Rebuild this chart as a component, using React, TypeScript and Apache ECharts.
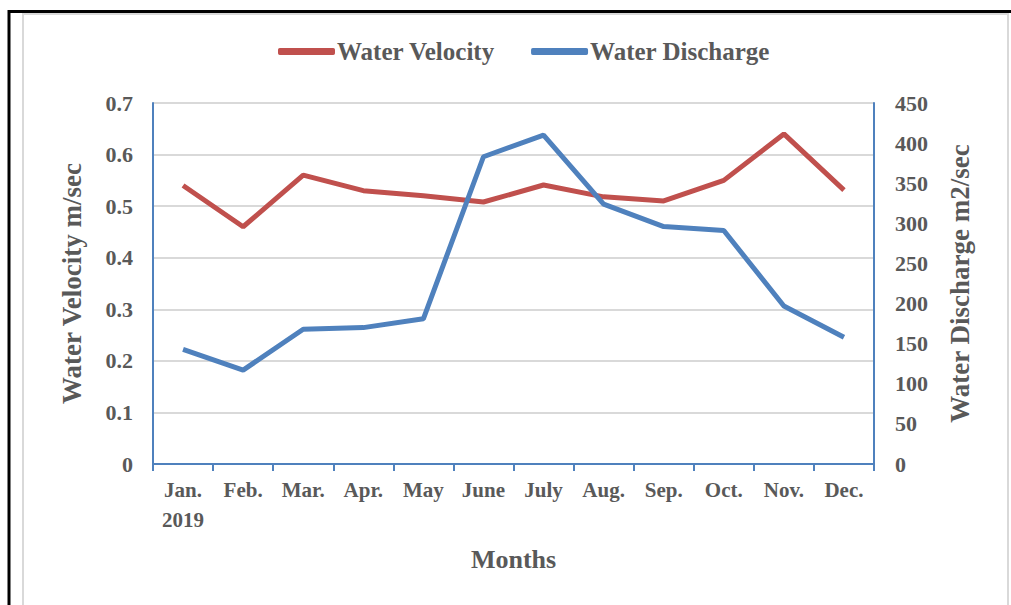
import React, { useEffect, useRef } from "react";
import * as echarts from "echarts";

const months = ["Jan.\n2019", "Feb.", "Mar.", "Apr.", "May", "June", "July", "Aug.", "Sep.", "Oct.", "Nov.", "Dec."];
const velocity = [0.54, 0.46, 0.56, 0.53, 0.52, 0.508, 0.541, 0.518, 0.51, 0.55, 0.64, 0.531];
const discharge = [143, 117, 168, 170, 181, 383, 410, 324, 296, 291, 197, 158];

const FONT = "'Liberation Serif', 'Times New Roman', serif";
const GRAY = "#595959";
const RED = "#C0504D";
const BLUE = "#4F81BD";

export default function App() {
  const ref = useRef<HTMLDivElement>(null);
  useEffect(() => {
    if (!ref.current) return;
    const chart = echarts.init(ref.current, null, { renderer: "svg" });
    chart.setOption({
      animation: false,
      backgroundColor: "#fff",
      textStyle: { fontFamily: FONT },
      graphic: [
        {
          type: "rect",
          shape: { x: 9, y: 11.5, width: 1100, height: 700 },
          style: { fill: "none", stroke: "#000", lineWidth: 3 },
          silent: true,
        },
        {
          type: "rect",
          shape: { x: 23, y: 14, width: 985, height: 700 },
          style: { fill: "none", stroke: "#D9D9D9", lineWidth: 2 },
          silent: true,
        },
      ],
      legend: {
        top: 34,
        left: 273,
        itemWidth: 57,
        itemHeight: 7,
        itemGap: 36,
        icon: "roundRect",
        textStyle: { fontFamily: FONT, fontSize: 25, fontWeight: "bold", color: GRAY, padding: [0, 0, 0, -3] },
        data: ["Water Velocity", "Water Discharge"],
      },
      grid: { left: 153, right: 137, top: 103, bottom: 141, containLabel: false },
      xAxis: {
        type: "category",
        data: months,
        boundaryGap: true,
        name: "Months",
        nameLocation: "middle",
        nameGap: 82,
        nameTextStyle: { fontFamily: FONT, fontSize: 26, fontWeight: "bold", color: GRAY },
        axisLine: { lineStyle: { color: BLUE, width: 2 } },
        axisTick: { show: true, length: 7, lineStyle: { color: BLUE, width: 2 } },
        axisLabel: {
          fontFamily: FONT,
          fontSize: 21,
          fontWeight: "bold",
          color: GRAY,
          margin: 11,
          lineHeight: 30,
          interval: 0,
          align: "center",
        },
        splitLine: { show: false },
      },
      yAxis: [
        {
          type: "value",
          min: 0,
          max: 0.7,
          interval: 0.1,
          name: "Water Velocity m/sec",
          nameLocation: "middle",
          nameGap: 68,
          nameTextStyle: { fontFamily: FONT, fontSize: 27, fontWeight: "bold", color: GRAY },
          axisLine: { show: true, lineStyle: { color: BLUE, width: 2 } },
          axisTick: { show: false },
          axisLabel: {
            fontFamily: FONT,
            fontSize: 22,
            fontWeight: "bold",
            color: GRAY,
            margin: 20,
            formatter: (v: number) => (v === 0 ? "0" : v.toFixed(1)),
          },
          splitLine: { show: true, lineStyle: { color: "#D9D9D9", width: 2 } },
        },
        {
          type: "value",
          min: 0,
          max: 450,
          interval: 50,
          name: "Water Discharge m2/sec",
          nameLocation: "middle",
          nameGap: 72,
          nameTextStyle: { fontFamily: FONT, fontSize: 27, fontWeight: "bold", color: GRAY },
          axisLine: { show: true, lineStyle: { color: BLUE, width: 2 } },
          axisTick: { show: false },
          axisLabel: { fontFamily: FONT, fontSize: 22, fontWeight: "bold", color: GRAY, margin: 21 },
          splitLine: { show: false },
        },
      ],
      series: [
        {
          name: "Water Velocity",
          type: "line",
          yAxisIndex: 0,
          data: velocity,
          symbol: "none",
          color: RED,
          lineStyle: { color: RED, width: 5 },
        },
        {
          name: "Water Discharge",
          type: "line",
          yAxisIndex: 1,
          data: discharge,
          symbol: "none",
          color: BLUE,
          lineStyle: { color: BLUE, width: 5 },
        },
      ],
    });
    return () => chart.dispose();
  }, []);
  return <div ref={ref} style={{ position: "fixed", left: 0, top: 0, width: 1011, height: 605 }} />;
}
